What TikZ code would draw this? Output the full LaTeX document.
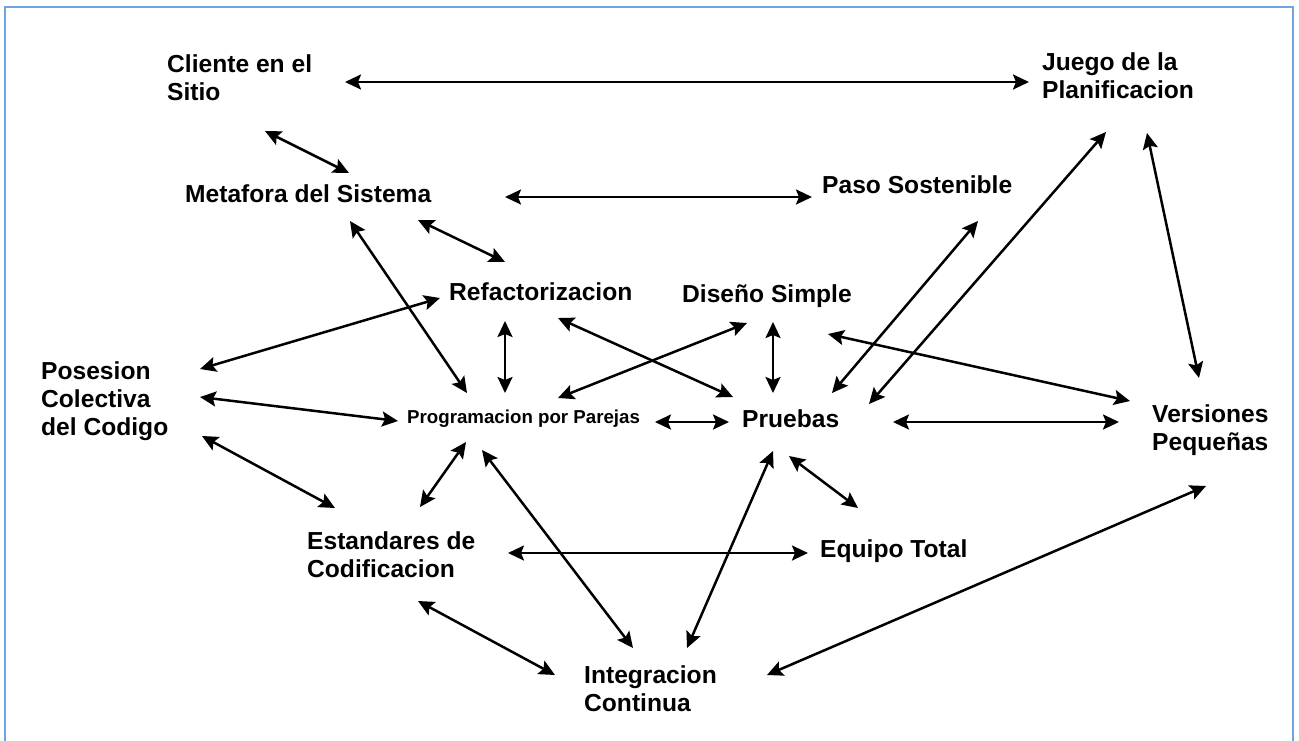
\documentclass[tikz,border=0pt]{standalone}
\usepackage{fontspec}
\setmainfont{Liberation Sans}
\usetikzlibrary{arrows.meta}
\definecolor{framecol}{RGB}{110,165,225}
% multi-line label whose baseline is that of its first line
\newcommand{\lines}[1]{\begin{tabular}[t]{@{}l@{}}#1\end{tabular}}
\begin{document}
\begin{tikzpicture}[x=1pt,y=-1pt,
  lbl/.style={inner sep=0pt,anchor=base west,
    font=\bfseries\fontsize{24.6}{28}\selectfont},
  small/.style={font=\bfseries\fontsize{18.7}{22}\selectfont},
  tip/.tip={Stealth[length=16pt,width=15pt,inset=3pt]},
  link/.style={line width=2.5pt,tip-tip}]
\useasboundingbox (0,0) rectangle (1299,740);
% outer frame, open at the lower edge
\draw[framecol,line width=2pt] (5,745) -- (5,7) -- (1293,7) -- (1293,745);

% practices
\node[lbl] (cli) at (167,72)  {\lines{Cliente en el\\Sitio}};
\node[lbl] (jue) at (1042,70) {\lines{Juego de la\\Planificacion}};
\node[lbl] (met) at (185,202) {Metafora del Sistema};
\node[lbl] (pas) at (822,193) {Paso Sostenible};
\node[lbl] (ref) at (449,300) {Refactorizacion};
\node[lbl] (dis) at (682,302) {Diseño Simple};
\node[lbl] (pos) at (41,379)  {\lines{Posesion\\Colectiva\\del Codigo}};
\node[lbl,small] (pro) at (407,423) {Programacion por Parejas};
\node[lbl] (pru) at (742,427) {Pruebas};
\node[lbl] (ver) at (1152,422) {\lines{Versiones\\Pequeñas}};
\node[lbl] (est) at (307,549) {\lines{Estandares de\\Codificacion}};
\node[lbl] (equ) at (820,557) {Equipo Total};
\node[lbl] (int) at (584,683) {\lines{Integracion\\Continua}};

% relations between practices
\draw[link] ([shift={(178,10)}]cli.base west) -- ([shift={(-13,12)}]jue.base west);
\draw[link] ([shift={(98,59)}]cli.base west) -- ([shift={(164,-29)}]met.base west);
\draw[link] ([shift={(320,-5)}]met.base west) -- ([shift={(-10,4)}]pas.base west);
\draw[link] ([shift={(233,18)}]met.base west) -- ([shift={(56,-38)}]ref.base west);
\draw[link] ([shift={(165,19)}]met.base west) -- ([shift={(60,-30)}]pro.base west);
\draw[link] ([shift={(-9,-2)}]ref.base west) -- ([shift={(159,-10)}]pos.base west);
\draw[link] ([shift={(56,21)}]ref.base west) -- ([shift={(98,-30)}]pro.base west);
\draw[link] ([shift={(109,18)}]ref.base west) -- ([shift={(-9,-30)}]pru.base west);
\draw[link] ([shift={(65,21)}]dis.base west) -- ([shift={(151,-25)}]pro.base west);
\draw[link] ([shift={(91,20)}]dis.base west) -- ([shift={(31,-34)}]pru.base west);
\draw[link] ([shift={(146,32)}]dis.base west) -- ([shift={(-22,-21)}]ver.base west);
\draw[link] ([shift={(248,-1)}]pro.base west) -- ([shift={(-13,-5)}]pru.base west);
\draw[link] ([shift={(151,-5)}]pru.base west) -- ([shift={(-33,0)}]ver.base west);
\draw[link] ([shift={(90,-34)}]pru.base west) -- ([shift={(156,28)}]pas.base west);
\draw[link] ([shift={(127,-23)}]pru.base west) -- ([shift={(64,62)}]jue.base west);
\draw[link] ([shift={(105,63)}]jue.base west) -- ([shift={(47,-44)}]ver.base west);
\draw[link] ([shift={(159,18)}]pos.base west) -- ([shift={(-9,-2)}]pro.base west);
\draw[link] ([shift={(161,57)}]pos.base west) -- ([shift={(28,-41)}]est.base west);
\draw[link] ([shift={(59,19)}]pro.base west) -- ([shift={(113,-42)}]est.base west);
\draw[link] ([shift={(75,27)}]pro.base west) -- ([shift={(49,-35)}]int.base west);
\draw[link] ([shift={(31,24)}]pru.base west) -- ([shift={(103,-35)}]int.base west);
\draw[link] ([shift={(47,29)}]pru.base west) -- ([shift={(38,-49)}]equ.base west);
\draw[link] ([shift={(201,4)}]est.base west) -- ([shift={(-12,-4)}]equ.base west);
\draw[link] ([shift={(111,52)}]est.base west) -- ([shift={(-29,-8)}]int.base west);
\draw[link] ([shift={(183,-8)}]int.base west) -- ([shift={(54,64)}]ver.base west);
\end{tikzpicture}
\end{document}
